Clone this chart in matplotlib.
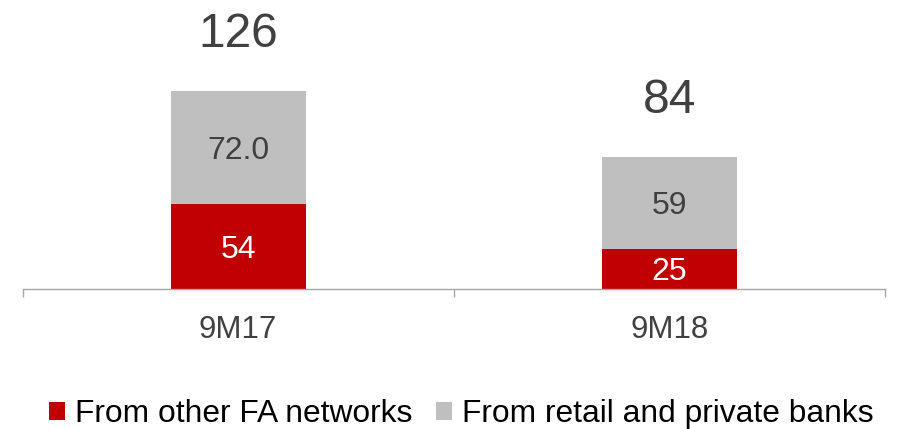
import matplotlib
matplotlib.use("Agg")
import matplotlib.pyplot as plt
from matplotlib.patches import Patch

# Data
categories = ["9M17", "9M18"]
fa_networks = [54, 25]
retail_banks = [72.0, 59]
retail_labels = ["72.0", "59"]
totals = [126, 84]
series_names = ["From other FA networks", "From retail and private banks"]

RED = "#C00000"
GREY = "#BFBFBF"
TEXT = "#404040"
AXIS = "#A6A6A6"

plt.rcParams["font.family"] = ["Liberation Sans", "DejaVu Sans"]

fig = plt.figure(figsize=(8.99, 4.29), dpi=100)
ax = fig.add_axes([22.5 / 899, (429 - 288.5) / 429, 862.5 / 899, 288.5 / 429])

x = list(range(len(categories)))
width = 0.313
ax.bar(x, fa_networks, width=width, color=RED, zorder=2)
ax.bar(x, retail_banks, width=width, bottom=fa_networks, color=GREY, zorder=2)

ax.set_xlim(-0.5, len(categories) - 0.5)
ax.set_ylim(0, 183.6)

# segment labels and totals
for i in x:
    ax.text(i, fa_networks[i] / 2, str(fa_networks[i]), ha="center",
            va="center_baseline", color="white", fontsize=23)
    ax.text(i, fa_networks[i] + retail_banks[i] / 2, retail_labels[i], ha="center",
            va="center_baseline", color=TEXT, fontsize=23)
    ax.annotate(str(totals[i]), xy=(i, fa_networks[i] + retail_banks[i]),
                xytext=(0, 40), textcoords="offset points", ha="center",
                va="center", color=TEXT, fontsize=34.5)

# axes styling
for s in ["top", "right", "left"]:
    ax.spines[s].set_visible(False)
ax.spines["bottom"].set_color(AXIS)
ax.spines["bottom"].set_linewidth(1.0)
ax.set_yticks([])
ax.set_xticks(x)
ax.set_xticklabels(categories, fontsize=22.5, color=TEXT)
ax.tick_params(axis="x", which="major", length=0, pad=19)
ax.set_xticks([-0.5 + k for k in range(len(categories) + 1)], minor=True)
ax.tick_params(axis="x", which="minor", length=6, color=AXIS, width=1.0)

handles = [Patch(facecolor=RED, edgecolor="none"), Patch(facecolor=GREY, edgecolor="none")]
fig.legend(handles, series_names, loc="center left",
           bbox_to_anchor=(49 / 899, (429 - 414) / 429), ncol=2, frameon=False,
           fontsize=22.9, handlelength=0.51, handleheight=0.51,
           handletextpad=0.3, columnspacing=0.75, borderpad=0, borderaxespad=0)

fig.savefig("out.png", dpi=100)
